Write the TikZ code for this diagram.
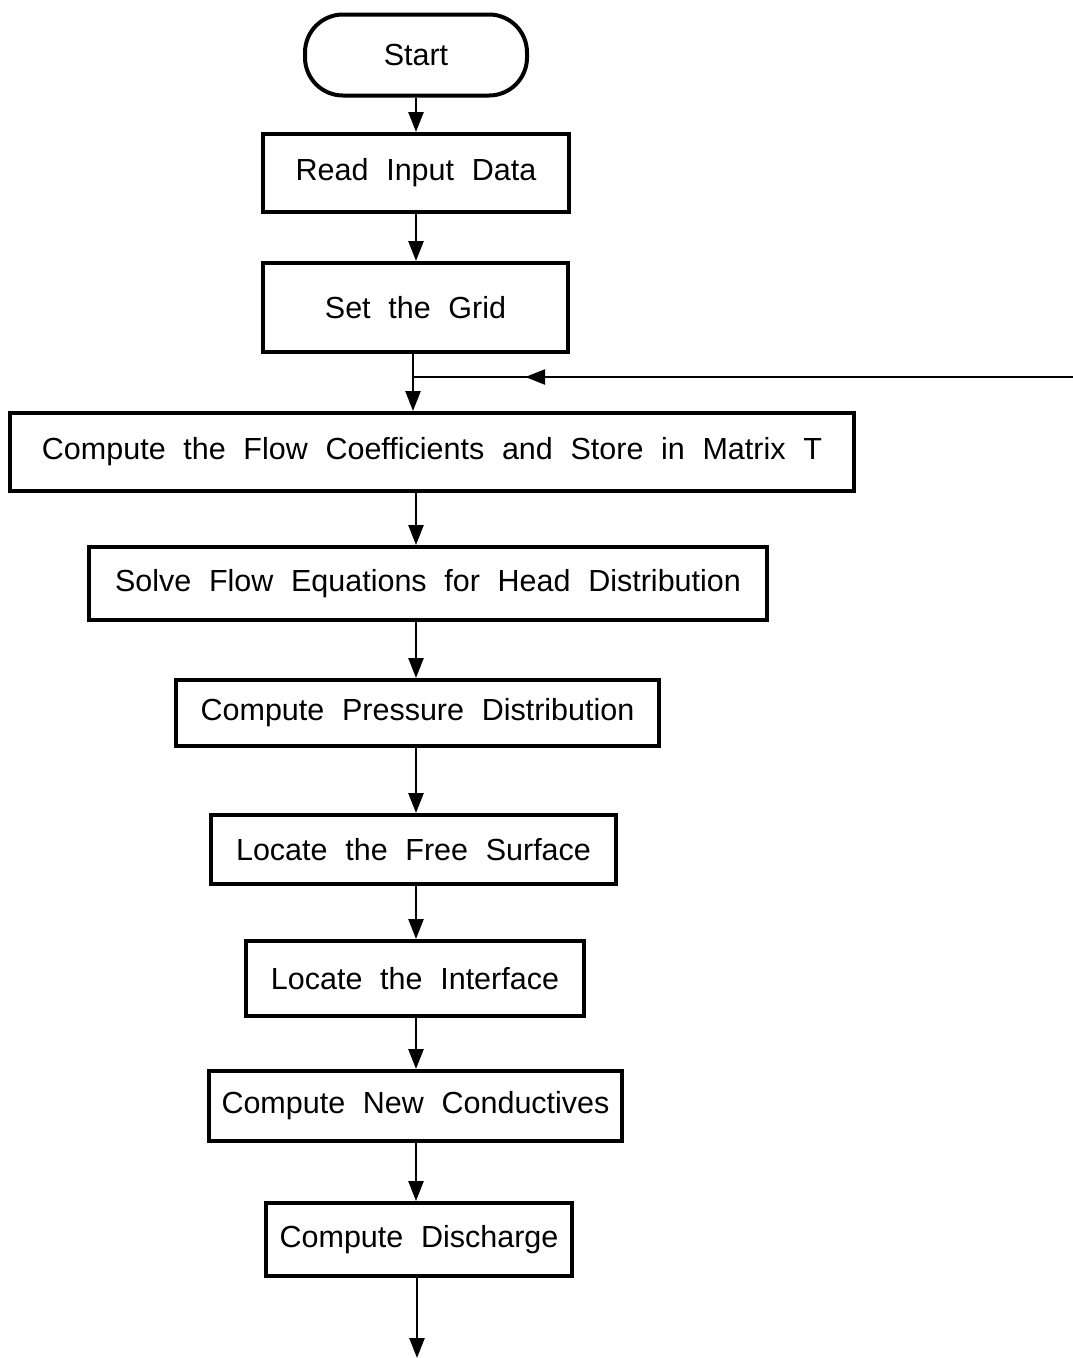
\documentclass[tikz,border=0pt]{standalone}
\usepackage{fontspec}
\setmainfont{Liberation Sans}
\usetikzlibrary{arrows.meta,calc}
\newcommand\bxfont{\fontsize{30.5}{36}\selectfont\spaceskip=0.58em plus 0.1em\relax}
\begin{document}
\begin{tikzpicture}[x=1pt,y=-1pt,
  box/.style={draw,line width=4pt,rectangle,inner sep=0pt,font=\bxfont},
  term/.style={box,rounded corners=38pt},
  arr/.style={line width=2.6pt,-{Triangle[length=20pt,width=15pt]}},
  ln/.style={line width=2.6pt}]
\useasboundingbox (0,0) rectangle (1073,1358);
\node[term,minimum width=222pt,minimum height=81pt] (start) at (416,55) {Start};
\node[box,minimum width=306pt,minimum height=78pt] (read) at (416,173) {Read Input Data};
\node[box,minimum width=305pt,minimum height=89pt] (grid) at (415.5,307.5) {Set the Grid};
\node[box,minimum width=844pt,minimum height=78pt] (cf) at (432,452) {Compute the Flow Coefficients and Store in Matrix T};
\node[box,minimum width=678pt,minimum height=73pt] (solve) at (428,583.5) {Solve Flow Equations for Head Distribution};
\node[box,minimum width=483pt,minimum height=66pt] (press) at (417.5,713) {Compute Pressure Distribution};
\node[box,minimum width=405pt,minimum height=69pt] (free) at (413.5,849.5) {Locate the Free Surface};
\node[box,minimum width=338pt,minimum height=75pt] (inter) at (415,978.5) {Locate the Interface};
\node[box,minimum width=413pt,minimum height=70pt] (cond) at (415.5,1106) {Compute New Conductives};
\node[box,minimum width=306pt,minimum height=73pt] (disc) at (419,1239.5) {Compute Discharge};
\coordinate (j) at (413,377);
\coordinate (re) at (1073,377);
\coordinate (endpt) at (417,1358);
\coordinate (ax) at (416,0);
\draw[arr] (start.south -| ax) -- (read.north -| ax);
\draw[arr] (read.south -| ax) -- (grid.north -| ax);
\draw[ln] (grid.south -| j) -- (j);
\draw[arr] (j) -- (j |- cf.north);
\draw[ln] (re) -- (j);
\draw[arr] (re) -- ($(re)!0.83!(j)$);
\draw[arr] (cf.south -| ax) -- (solve.north -| ax);
\draw[arr] (solve.south -| ax) -- (press.north -| ax);
\draw[arr] (press.south -| ax) -- (free.north -| ax);
\draw[arr] (free.south -| ax) -- (inter.north -| ax);
\draw[arr] (inter.south -| ax) -- (cond.north -| ax);
\draw[arr] (cond.south -| ax) -- (disc.north -| ax);
\draw[arr] (disc.south -| endpt) -- (endpt);
\end{tikzpicture}
\end{document}
